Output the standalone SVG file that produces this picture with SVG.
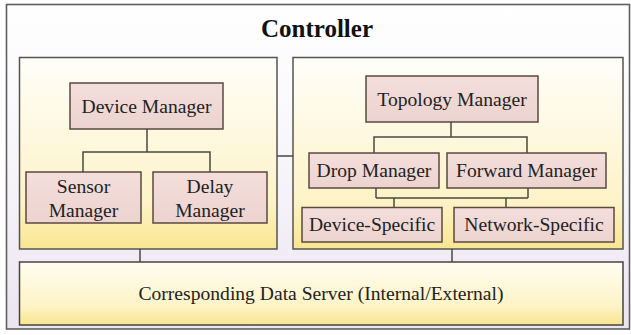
<svg xmlns="http://www.w3.org/2000/svg" width="631" height="335" viewBox="0 0 631 335">
<defs>
<linearGradient id="gOuter" x1="0" y1="0" x2="0" y2="1">
<stop offset="0" stop-color="#ffffff"/>
<stop offset="0.5" stop-color="#f7f5fa"/>
<stop offset="1" stop-color="#ebe4f1"/>
</linearGradient>
<linearGradient id="gPanel" x1="0" y1="0" x2="0" y2="1">
<stop offset="0" stop-color="#fffefa"/>
<stop offset="0.75" stop-color="#fdf3c8"/>
<stop offset="1" stop-color="#f9e690"/>
</linearGradient>
<linearGradient id="gServer" x1="0" y1="0" x2="0" y2="1">
<stop offset="0" stop-color="#fffdf2"/>
<stop offset="0.7" stop-color="#fdf3c6"/>
<stop offset="1" stop-color="#f8e58e"/>
</linearGradient>
<linearGradient id="gNode" x1="0" y1="0" x2="0" y2="1">
<stop offset="0" stop-color="#f4dedb"/>
<stop offset="1" stop-color="#ecd3cf"/>
</linearGradient>
</defs>
<style>
.outer{fill:url(#gOuter);stroke:#5f5f5f;stroke-width:1.6}
.panel{fill:url(#gPanel);stroke:#555550;stroke-width:1.5}
.server{fill:url(#gServer);stroke:#444440;stroke-width:1.5}
.node{fill:url(#gNode);stroke:#5a4a40;stroke-width:1.5}
.t{font-family:"Liberation Serif","Times New Roman",serif;font-size:19.6px;fill:#222;text-anchor:middle}
.title{font-family:"Liberation Serif","Times New Roman",serif;font-size:25px;font-weight:bold;fill:#111;text-anchor:middle}
.conn{fill:none;stroke:#4a4a40;stroke-width:1.5}
</style>
<g id="controller">
<rect class="outer" x="6.5" y="4.5" width="623" height="324.5"/>
<text class="title" x="317" y="37">Controller</text>
</g>
<g id="left-panel"><rect class="panel" x="19.5" y="57.5" width="257.5" height="191.5"/></g>
<g id="right-panel"><rect class="panel" x="293" y="57.5" width="330" height="191.5"/></g>
<g id="data-server">
<rect class="server" x="19.5" y="262" width="603.5" height="63"/>
<text class="t" x="321" y="300">Corresponding Data Server (Internal/External)</text>
</g>
<g id="connectors">
<path class="conn" d="M277 156H293"/>
<path class="conn" d="M140 249V262M452 249V262"/>
<path class="conn" d="M147 129V152M83 172V152H210V172"/>
<path class="conn" d="M451 122V137M374 153V137H527V153"/>
<path class="conn" d="M376 188V198M528 188V198M376 198H528M394 198V207.5M506 198V207.5"/>
</g>
<g id="device-manager">
<rect class="node" x="70" y="83" width="153" height="46"/>
<text class="t" x="146.5" y="112.5">Device Manager</text>
</g>
<g id="sensor-manager">
<rect class="node" x="26" y="172" width="115" height="51"/>
<text class="t" x="83.5" y="193">Sensor</text>
<text class="t" x="83.5" y="217">Manager</text>
</g>
<g id="delay-manager">
<rect class="node" x="153" y="172" width="114" height="51"/>
<text class="t" x="210" y="193">Delay</text>
<text class="t" x="210" y="217">Manager</text>
</g>
<g id="topology-manager">
<rect class="node" x="366" y="76" width="172" height="46"/>
<text class="t" x="452" y="105.5">Topology Manager</text>
</g>
<g id="drop-manager">
<rect class="node" x="309" y="153" width="130" height="35"/>
<text class="t" x="374" y="177">Drop Manager</text>
</g>
<g id="forward-manager">
<rect class="node" x="447" y="153" width="159" height="35"/>
<text class="t" x="526.5" y="177">Forward Manager</text>
</g>
<g id="device-specific">
<rect class="node" x="302" y="207.5" width="140" height="34.5"/>
<text class="t" x="372" y="231">Device-Specific</text>
</g>
<g id="network-specific">
<rect class="node" x="454" y="207.5" width="160" height="34.5"/>
<text class="t" x="534" y="231">Network-Specific</text>
</g>
</svg>
